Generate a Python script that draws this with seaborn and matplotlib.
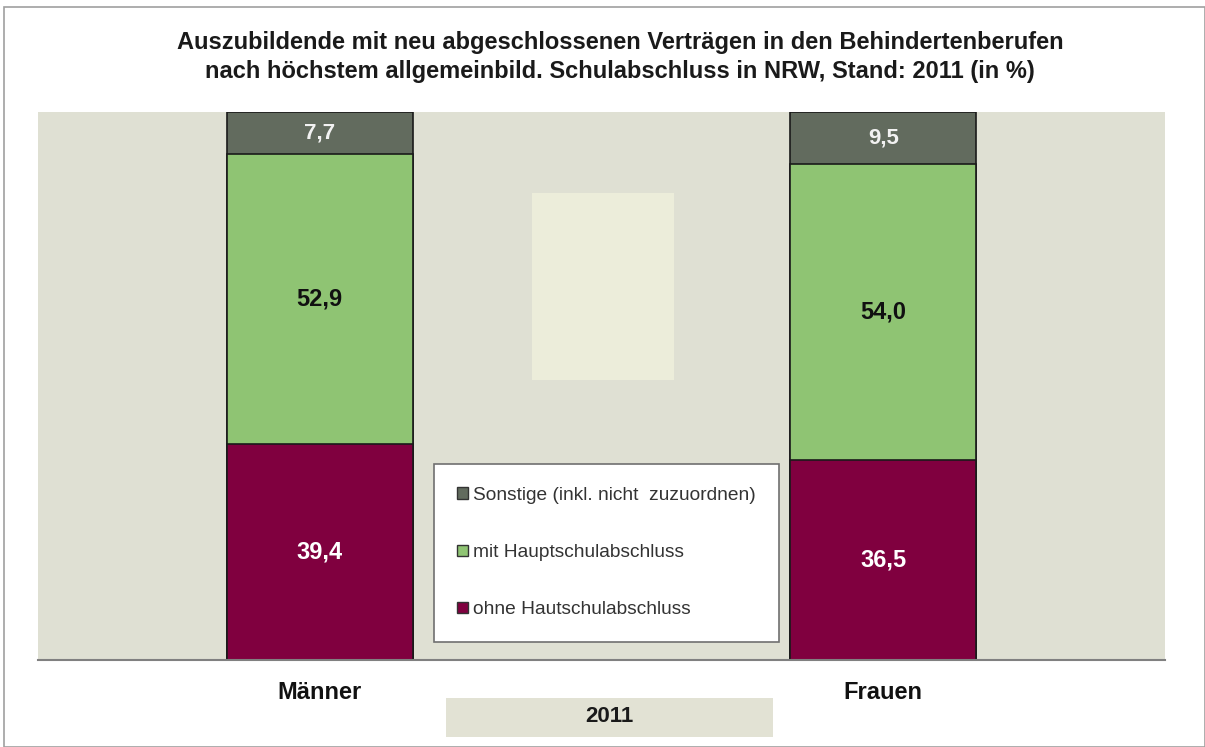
import pandas as pd
import matplotlib.pyplot as plt
import seaborn as sns
from matplotlib.patches import Patch, Rectangle

# Daten (in %)
gruppen = ["Männer", "Frauen"]
ohne_hauptschul = [39.4, 36.5]
mit_hauptschul = [52.9, 54.0]
sonstige = [7.7, 9.5]

labels_ohne = ["39,4", "36,5"]
labels_mit = ["52,9", "54,0"]
labels_sonst = ["7,7", "9,5"]

titel = ("Auszubildende mit neu abgeschlossenen Verträgen in den Behindertenberufen\n"
         "nach höchstem allgemeinbild. Schulabschluss in NRW, Stand: 2011 (in %)")
jahr = "2011"

farbe_sonst = "#626b5e"
farbe_mit = "#8fc473"
farbe_ohne = "#80003f"
hintergrund = "#dfe0d3"

df = pd.DataFrame({
    "gruppe": gruppen,
    "ohne": ohne_hauptschul,
    "mit": mit_hauptschul,
    "sonst": sonstige,
})
df["bis_mit"] = df["ohne"] + df["mit"]
df["gesamt"] = df["bis_mit"] + df["sonst"]

sns.set_theme(style="white")
plt.rcParams["font.family"] = ["Liberation Sans", "DejaVu Sans"]

W, H = 1205, 747
fig = plt.figure(figsize=(W / 100, H / 100), dpi=100)
ax = fig.add_axes([38 / W, (H - 660) / H, (1165 - 38) / W, (660 - 112) / H])
ax.set_facecolor(hintergrund)

# Rahmen um die Grafik
fig.patches.append(Rectangle((4 / W, 0), (W - 4) / W, (H - 7) / H, transform=fig.transFigure,
                             fill=False, edgecolor="#a0a0a0", linewidth=1.2))

# hellere Fläche in der Mitte
px = 564  # Pixel pro Kategorie-Einheit
ax.add_patch(Rectangle(((532 - 38) / px - 0.5, 100 * (660 - 380) / 548), 143 / px, 100 * 187 / 548,
                       facecolor="#ecedda", edgecolor="none", zorder=0.5))

# gestapelte Balken (von oben nach unten übermalt)
bw = 186 / px
sns.barplot(data=df, x="gruppe", y="gesamt", color=farbe_sonst, saturation=1,
            width=bw, edgecolor="#1a1a1a", linewidth=1.2, ax=ax)
sns.barplot(data=df, x="gruppe", y="bis_mit", color=farbe_mit, saturation=1,
            width=bw, edgecolor="#1a1a1a", linewidth=1.2, ax=ax)
sns.barplot(data=df, x="gruppe", y="ohne", color=farbe_ohne, saturation=1,
            width=bw, edgecolor="#1a1a1a", linewidth=1.2, ax=ax)

for i in range(len(gruppen)):
    ax.text(i, df["ohne"][i] / 2, labels_ohne[i], ha="center", va="center",
            color="white", fontsize=17, fontweight="bold")
    ax.text(i, df["ohne"][i] + df["mit"][i] / 2, labels_mit[i], ha="center", va="center",
            color="#111111", fontsize=17, fontweight="bold")
    ax.text(i, df["bis_mit"][i] + df["sonst"][i] / 2, labels_sonst[i], ha="center", va="center",
            color="#f2f2f2", fontsize=16, fontweight="bold")

ax.set_xlim(-0.5, 1.5)
ax.set_ylim(0, 100)
ax.set_xlabel("")
ax.set_ylabel("")
ax.set_yticks([])
ax.tick_params(axis="x", length=0, pad=15)
for lbl in ax.get_xticklabels():
    lbl.set_fontweight("bold")
    lbl.set_fontsize(17)
    lbl.set_color("#111111")
for s in ["top", "right", "left"]:
    ax.spines[s].set_visible(False)
ax.spines["bottom"].set_color("#808080")
ax.spines["bottom"].set_linewidth(1.5)

# Legende
handles = [
    Patch(facecolor=farbe_sonst, edgecolor="#333333", label="Sonstige (inkl. nicht  zuzuordnen)"),
    Patch(facecolor=farbe_mit, edgecolor="#333333", label="mit Hauptschulabschluss"),
    Patch(facecolor=farbe_ohne, edgecolor="#333333", label="ohne Hautschulabschluss"),
]
leg = ax.legend(handles=handles, loc="upper left",
                bbox_to_anchor=(434 / W, (H - 464) / H), bbox_transform=fig.transFigure,
                fontsize=13.8, frameon=True, fancybox=False, edgecolor="#707070",
                framealpha=1, borderpad=1.2, labelspacing=2.1, handlelength=0.55,
                handleheight=0.55, handletextpad=0.3, borderaxespad=0)
leg.get_frame().set_linewidth(1.2)
for t in leg.get_texts():
    t.set_color("#333333")

# Titel
fig.text(620 / W, (H - 57) / H, titel, ha="center", va="center", fontsize=17,
         fontweight="bold", linespacing=1.38, color="#1a1a1a")

# Jahr-Kasten
fig.patches.append(Rectangle((446 / W, (H - 737) / H), 327 / W, 39 / H, transform=fig.transFigure,
                             facecolor="#e2e2d4", edgecolor="none"))
fig.text(609 / W, (H - 717) / H, jahr, ha="center", va="center", fontsize=16,
         fontweight="bold", color="#1a1a1a")

fig.savefig("out.png", dpi=100)
